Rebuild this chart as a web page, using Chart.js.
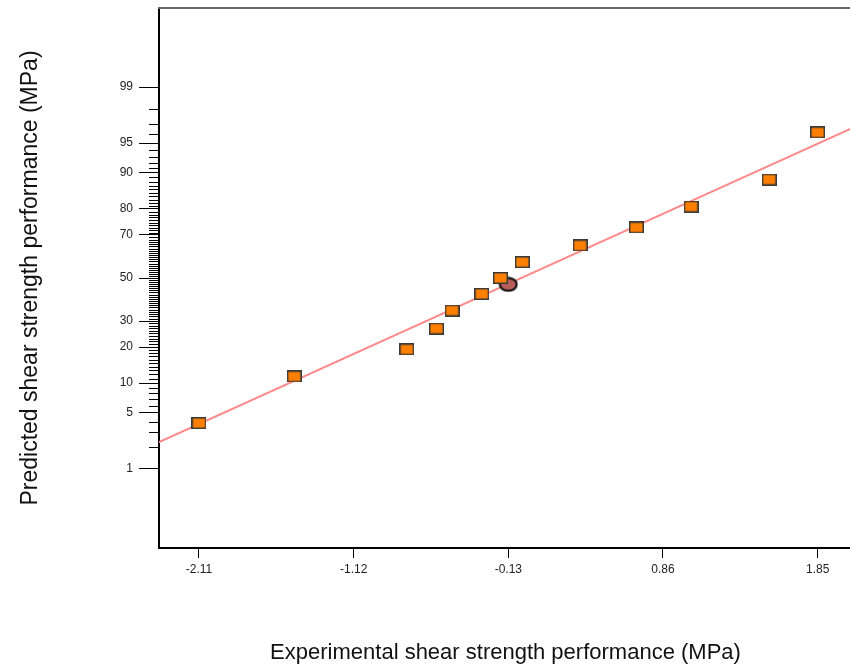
<!DOCTYPE html>
<html><head><meta charset="utf-8">
<script src="https://cdn.jsdelivr.net/npm/chart.js@4/dist/chart.umd.min.js"></script>
<style>
html,body{margin:0;padding:0;background:#fff;overflow:hidden;width:850px;height:670px}
#wrap{width:860px;height:670px;position:relative}
</style>
</head><body>
<div id="wrap"><canvas id="c" width="860" height="670"></canvas></div>
<script>
// ---- data ----
const xValues   = [-2.11, -1.50, -0.78, -0.59, -0.49, -0.30, -0.18, -0.04, 0.33, 0.69, 1.04, 1.54, 1.85];
const yPercents = [3.85, 11.5, 19.2, 26.9, 34.6, 42.3, 50.0, 57.7, 65.4, 73.1, 80.8, 88.5, 96.2];
const highlightX = [-0.13];
const highlightP = [46.9];
const lineX = [-2.37, 2.07];
const lineP = [2.25, 96.6];
const xTicks = [-2.11, -1.12, -0.13, 0.86, 1.85];
const yMajorTicks = [1, 5, 10, 20, 30, 50, 70, 80, 90, 95, 99];
const yMinorTicks = [2,3,4,6,7,8,9,11,12,13,14,15,16,17,18,19,21,22,23,24,25,26,27,28,29,
  31,32,33,34,35,36,37,38,39,40,41,42,43,44,45,46,47,48,49,51,52,53,54,55,56,57,58,59,60,
  61,62,63,64,65,66,67,68,69,71,72,73,74,75,76,77,78,79,81,82,83,84,85,86,87,88,89,
  91,92,93,94,96,97,98];
const yRangeP = [0.05, 99.95];
const xRange = [-2.366, 2.07];

// inverse normal CDF (probability-scale transform)
function probit(p){
  const a=[-3.969683028665376e+01,2.209460984245205e+02,-2.759285104469687e+02,1.383577518672690e+02,-3.066479806614716e+01,2.506628277459239e+00];
  const b=[-5.447609879822406e+01,1.615858368580409e+02,-1.556989798598866e+02,6.680131188771972e+01,-1.328068155288572e+01];
  const c=[-7.784894002430293e-03,-3.223964580411365e-01,-2.400758277161838e+00,-2.549671010229297e+00,4.374664141464968e+00,2.938163982698783e+00];
  const d=[7.784695709041462e-03,3.224671290700398e-01,2.445134137142996e+00,3.754408661907416e+00];
  const pl=0.02425, ph=1-pl;
  let q,r;
  if(p<pl){q=Math.sqrt(-2*Math.log(p));return (((((c[0]*q+c[1])*q+c[2])*q+c[3])*q+c[4])*q+c[5])/((((d[0]*q+d[1])*q+d[2])*q+d[3])*q+1);}
  if(p<=ph){q=p-0.5;r=q*q;return (((((a[0]*r+a[1])*r+a[2])*r+a[3])*r+a[4])*r+a[5])*q/(((((b[0]*r+b[1])*r+b[2])*r+b[3])*r+b[4])*r+1);}
  q=Math.sqrt(-2*Math.log(1-p));return -(((((c[0]*q+c[1])*q+c[2])*q+c[3])*q+c[4])*q+c[5])/((((d[0]*q+d[1])*q+d[2])*q+d[3])*q+1);
}
const z = p => probit(p/100);

function makeRect(w,h,fill,stroke,lw){
  const cv=document.createElement('canvas');cv.width=w;cv.height=h;
  const g=cv.getContext('2d');g.fillStyle=stroke;g.fillRect(0,0,w,h);
  g.fillStyle=fill;g.fillRect(lw,lw,w-2*lw,h-2*lw);return cv;
}
function makeEllipse(w,h,fill,stroke,lw){
  const cv=document.createElement('canvas');cv.width=w;cv.height=h;
  const g=cv.getContext('2d');g.beginPath();
  g.ellipse(w/2,h/2,w/2-lw/2-0.5,h/2-lw/2-0.5,0,0,Math.PI*2);
  g.fillStyle=fill;g.fill();g.lineWidth=lw;g.strokeStyle=stroke;g.stroke();return cv;
}
const squareImg = makeRect(15,12,'#FF8000','#3a3a3a',1.5);
const ellipseImg = makeEllipse(20,16,'#B85C5C','#111111',2.2);

const FONT = "'Liberation Sans', Arial, sans-serif";

const frameAndMinor = {
  id:'frameAndMinor',
  afterDraw(chart){
    const {ctx, chartArea, scales} = chart;
    const ys = scales.y;
    ctx.save();
    ctx.strokeStyle='#000';ctx.lineWidth=1;
    yMinorTicks.forEach(p=>{
      const py = Math.round(ys.getPixelForValue(z(p)))+0.5;
      ctx.beginPath();ctx.moveTo(chartArea.left-10,py);ctx.lineTo(chartArea.left,py);ctx.stroke();
    });
    ctx.strokeStyle='#666';ctx.lineWidth=2;
    ctx.beginPath();ctx.moveTo(chartArea.left-1,chartArea.top);ctx.lineTo(chartArea.right+2,chartArea.top);ctx.stroke();
    ctx.restore();
  }
};

new Chart(document.getElementById('c'),{
  data:{
    datasets:[
      {type:'scatter', label:'points', data:xValues.map((x,i)=>({x, y:z(yPercents[i])})),
       pointStyle:squareImg, order:0},
      {type:'scatter', label:'highlight', data:highlightX.map((x,i)=>({x, y:z(highlightP[i])})),
       pointStyle:ellipseImg, order:1},
      {type:'line', label:'fit', data:lineX.map((x,i)=>({x, y:z(lineP[i])})),
       borderColor:'#FF8A8A', borderWidth:2, pointRadius:0, fill:false, order:2}
    ]
  },
  options:{
    responsive:false, animation:false, devicePixelRatio:1,
    layout:{padding:{left:0,right:8,top:8,bottom:0}},
    plugins:{legend:{display:false}, tooltip:{enabled:false}},
    scales:{
      x:{type:'linear', min:xRange[0], max:xRange[1],
        afterBuildTicks(s){ s.ticks = xTicks.map(v=>({value:v})); },
        afterFit(s){ s.height = 670 - 548; s.paddingLeft = 0; s.paddingRight = 0; },
        ticks:{callback:v=>v.toFixed(2), color:'#222', font:{family:FONT,size:12}, padding:4, maxRotation:0},
        grid:{drawOnChartArea:false, drawTicks:true, tickLength:10, color:'#000', lineWidth:1},
        border:{display:true, color:'#000', width:2},
        title:{display:true, text:'Experimental shear strength performance (MPa)', color:'#111',
          font:{family:FONT,size:22}, padding:{top:0,bottom:4}}
      },
      y:{type:'linear', min:z(yRangeP[0]), max:z(yRangeP[1]),
        afterBuildTicks(s){ s.ticks = yMajorTicks.map(p=>({value:z(p), label:String(p)})); },
        afterFit(s){ s.width = 159; s.paddingTop = 0; s.paddingBottom = 0; },
        ticks:{callback:function(v,i,t){ return String(yMajorTicks[i]); }, color:'#222', font:{family:FONT,size:12}, padding:6},
        grid:{drawOnChartArea:false, drawTicks:true, tickLength:20, color:'#000', lineWidth:1},
        border:{display:true, color:'#000', width:2},
        title:{display:true, text:'Predicted shear strength performance (MPa)', color:'#111',
          font:{family:FONT,size:23}, padding:{top:17,bottom:0}}
      }
    }
  },
  plugins:[frameAndMinor]
});
</script>
</body></html>
